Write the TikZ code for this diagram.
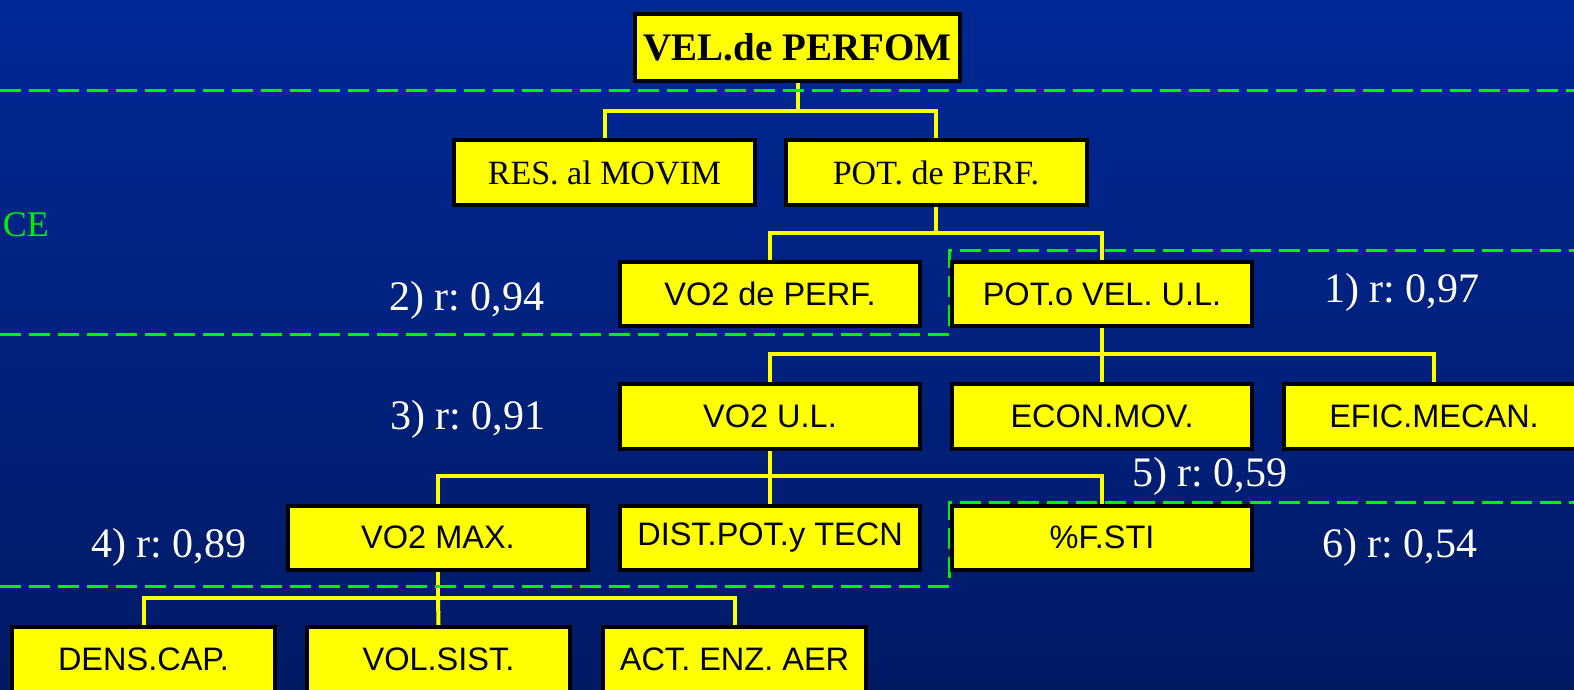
\documentclass[tikz,border=0pt]{standalone}
\usepackage{fontspec}
\setmainfont{Liberation Serif}
\newfontfamily\arialf{Liberation Sans}
\definecolor{bgtop}{RGB}{0,40,150}
\definecolor{bgbot}{RGB}{0,26,100}
\definecolor{lgreen}{RGB}{0,240,0}
\definecolor{byellow}{RGB}{255,255,0}
\pgfdeclarelayer{bg}
\pgfdeclarelayer{lines}
\pgfsetlayers{bg,lines,main}
\frenchspacing
\begin{document}
\begin{tikzpicture}[x=1pt,y=-1pt,
  box/.style={draw=black, line width=4pt, fill=byellow, inner sep=0pt, text=black, minimum height=64pt},
  sbox/.style={box, font=\arialf\fontsize{32.5}{36}\selectfont, minimum width=300pt},
  tbox/.style={box, font=\fontsize{34}{38}\selectfont, minimum width=301pt},
  conn/.style={draw=byellow, line width=4pt},
  sep/.style={draw=lgreen, line width=3pt, dash pattern=on 21pt off 8pt},
  lab/.style={text=white, inner sep=0pt, anchor=base west, font=\fontsize{42}{46}\selectfont}]
\useasboundingbox (0,0) rectangle (1574,689);
\begin{pgfonlayer}{bg}
\shade[top color=bgtop, bottom color=bgbot] (0,0) rectangle (1574,689);
\end{pgfonlayer}

\node[box, font=\bfseries\fontsize{39}{42}\selectfont, minimum width=325pt, minimum height=67pt] (top) at (797.5,47.5) {VEL.de PERFOM};
\node[tbox, minimum height=65pt] (res) at (604.5,172.5) {RES. al MOVIM};
\node[tbox, minimum height=65pt] (potp) at (936,172.5) {POT. de PERF.};
\node[sbox] (vo2p) at (770,294) {VO2 de PERF.};
\node[sbox] (poto) at (1102,294) {POT.o VEL. U.L.};
\node[sbox, minimum height=65pt] (vo2ul) at (770,416.5) {VO2 U.L.};
\node[sbox, minimum height=65pt] (econ) at (1102,416.5) {ECON.MOV.};
\node[sbox, minimum height=65pt] (efic) at (1434,416.5) {EFIC.MECAN.};
\node[sbox] (vo2max) at (438,537.5) {VO2 MAX.};
\node[sbox] (dist) at (770,537.5) {DIST.POT.y TECN};
\node[sbox] (fsti) at (1102,537.5) {\%F.STI};
\node[sbox, minimum width=263pt, minimum height=65pt] (dens) at (143.5,659.5) {DENS.CAP.};
\node[sbox, minimum width=263pt, minimum height=65pt] (vol) at (438.5,659.5) {VOL.SIST.};
\node[sbox, minimum width=263pt, minimum height=65pt] (act) at (734.5,659.5) {ACT. ENZ. AER};

\node[lab] (l1) at (1324,302) {1) r: 0,97};
\node[lab] (l2) at (389,310) {2) r: 0,94};
\node[lab] (l3) at (390,429) {3) r: 0,91};
\node[lab] (l4) at (91,557) {4) r: 0,89};
\node[lab] (l5) at (1132,486) {5) r: 0,59};
\node[lab] (l6) at (1322,557) {6) r: 0,54};
\node[text=lgreen, inner sep=0pt, anchor=base east, font=\fontsize{36}{40}\selectfont] (ce) at (49,236) {CE};

\begin{pgfonlayer}{lines}
\coordinate (j1) at (798,111);
\draw[conn] (top.south) -- (top.south |- j1);
\draw[conn] (res.north) |- (j1) -| (potp.north);
\coordinate (j2) at (936,233);
\draw[conn] (potp.south) -- (j2);
\draw[conn] (vo2p.north) |- (j2) -| (poto.north);
\coordinate (j3) at (1102,354);
\draw[conn] (poto.south) -- (j3);
\draw[conn] (vo2ul.north) |- (j3) -| (efic.north);
\draw[conn] (j3) -- (econ.north);
\coordinate (j4) at (770,476);
\draw[conn] (vo2ul.south) -- (j4);
\draw[conn] (vo2max.north) |- (j4) -| (fsti.north);
\draw[conn] (j4) -- (dist.north);
\coordinate (j5) at (438,598);
\draw[conn] (vo2max.south) -- (j5);
\draw[conn] (dens.north) |- (j5) -| (act.north);
\draw[conn] (j5) -- (vol.north);
\draw[sep] (0,90) -- (1574,90);
\draw[sep] (0,334) -- (949,334) -- (949,250) -- (1574,250);
\draw[sep] (0,586) -- (949,586) -- (949,502) -- (1574,502);
\end{pgfonlayer}
\end{tikzpicture}
\end{document}
